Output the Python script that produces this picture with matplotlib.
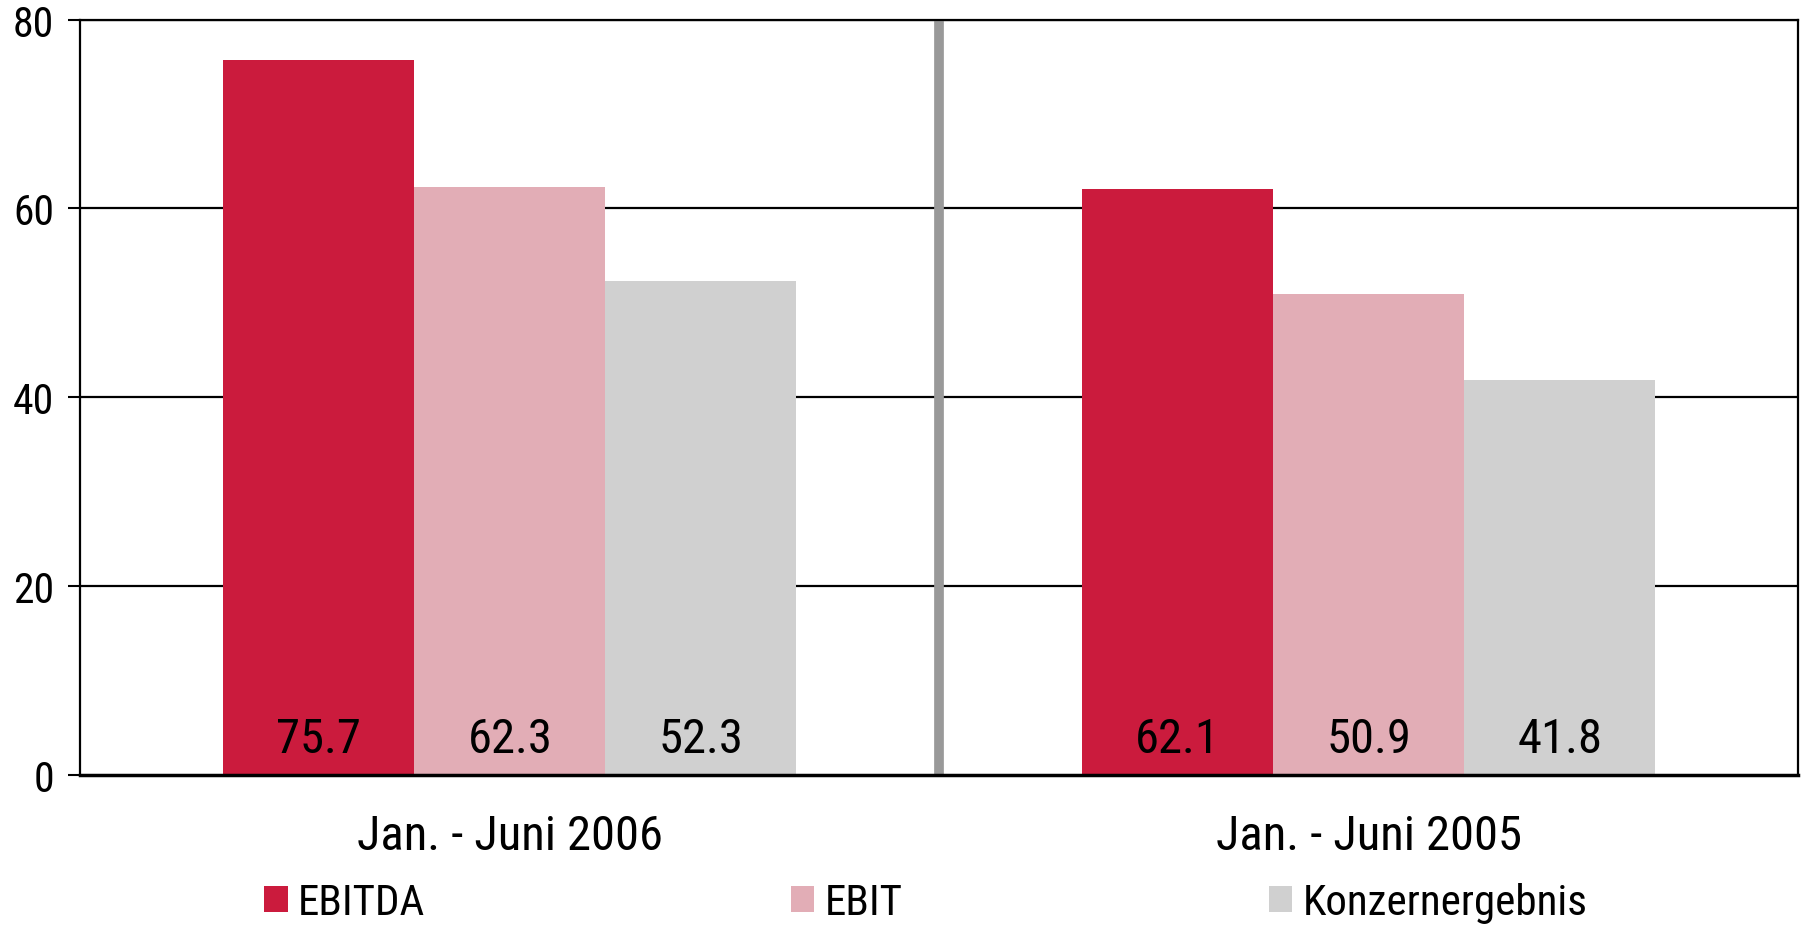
import matplotlib
matplotlib.use("Agg")
import matplotlib.pyplot as plt
from matplotlib import font_manager as fm
import numpy as np

categories = ["Jan. - Juni 2006", "Jan. - Juni 2005"]
series_names = ["EBITDA", "EBIT", "Konzernergebnis"]
ebitda = [75.7, 62.1]
ebit = [62.3, 50.9]
konzern = [52.3, 41.8]
colors = ["#CB1B3D", "#E2ADB6", "#D0D0D0"]
yticks = [0, 20, 40, 60, 80]

# pick a condensed font if one is installed
cand = None
for f in fm.fontManager.ttflist:
    low = (f.name + " " + f.fname).lower()
    if ("narrow" in low or "condensed" in low) and "bold" not in low and "oblique" not in low and "italic" not in low:
        cand = f
        if "liberation" in low:
            break
if cand is not None:
    prop_kw = dict(fname=cand.fname)
    CONDENSED = True
else:
    prop_kw = dict(family=["DejaVu Sans"])
    CONDENSED = False

def fp(size):
    return fm.FontProperties(size=size, **prop_kw)

scale = 1.0 if CONDENSED else 0.82

fig = plt.figure(figsize=(18.04, 9.28), dpi=100)
ax = fig.add_axes([0.0446, 0.1643, 0.9521, 0.8134])

series = [ebitda, ebit, konzern]
x = np.array([0.5, 1.5])
w = 0.2225
for i, (vals, c, name) in enumerate(zip(series, colors, series_names)):
    pos = x + (i - 1) * w
    ax.bar(pos, vals, width=w, color=c, label=name, zorder=3, linewidth=0)
    for p, v in zip(pos, vals):
        ax.text(p, 1.3, f"{v:.1f}", ha="center", va="bottom",
                fontproperties=fp(35 * scale), color="black", zorder=4)

ax.set_xlim(0, 2)
ax.set_ylim(0, 80)
ax.set_yticks(yticks)
ax.set_yticklabels([str(t) for t in yticks])
for lab in ax.get_yticklabels():
    lab.set_fontproperties(fp(30 * scale))
ax.set_xticks(x)
ax.set_xticklabels(categories)
for lab in ax.get_xticklabels():
    lab.set_fontproperties(fp(35 * scale))
ax.tick_params(axis="x", length=0, pad=28)
ax.tick_params(axis="y", length=9, width=1.5, direction="out", pad=10)
for t in yticks[1:]:
    ax.axhline(t, color="black", linewidth=1.6, zorder=2)
ax.axvline(1.0, color="#999999", linewidth=7, zorder=2.5)
for s in ax.spines.values():
    s.set_linewidth(1.6)
    s.set_color("black")
ax.spines["bottom"].set_linewidth(2.5)
ax.spines["bottom"].set_zorder(5)

handles, labels = ax.get_legend_handles_labels()
anchors = [0.1465, 0.4385, 0.7035]
for h, l, xa in zip(handles, labels, anchors):
    fig.legend([h], [l], loc="center left", bbox_to_anchor=(xa, 0.026),
               frameon=False, prop=fp(31 * scale), handlelength=0.54,
               handleheight=0.57, handletextpad=0.24, borderpad=0,
               borderaxespad=0)

fig.savefig("out.png", dpi=100)
